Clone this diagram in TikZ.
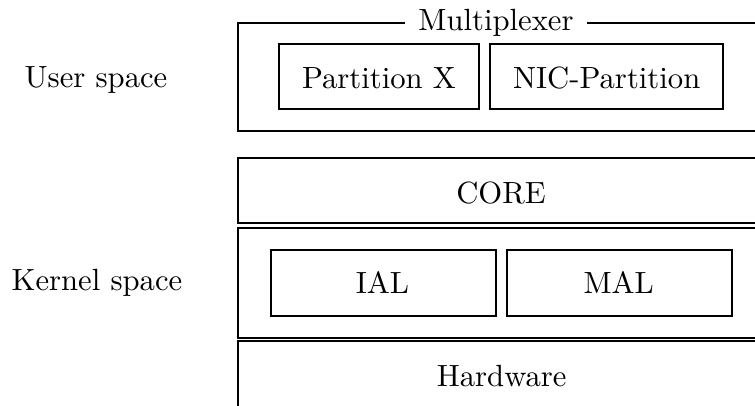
\documentclass[tikz,border=0pt]{standalone}
\usetikzlibrary{fit}
\begin{document}
\begin{tikzpicture}[x=0.326pt, y=-0.326pt,
  box/.style={draw, line width=0.4pt, inner sep=0pt},
  lbl/.style={anchor=base, inner sep=0pt}]
\useasboundingbox (0,0) rectangle (755,406);

% corner points of the layers
\coordinate (mA) at (238,23);  \coordinate (mB) at (764,131);
\coordinate (pA) at (279,44);  \coordinate (pB) at (479,109);
\coordinate (nA) at (490,44);  \coordinate (nB) at (723,109);
\coordinate (cA) at (238,158); \coordinate (cB) at (764,223);
\coordinate (kA) at (238,228); \coordinate (kB) at (764,338);
\coordinate (iA) at (271,250); \coordinate (iB) at (496,316);
\coordinate (aA) at (507,250); \coordinate (aB) at (732,316);
\coordinate (hA) at (238,341); \coordinate (hB) at (764,408);

% user space
\node[box, fit=(mA)(mB)] (mux) {};
\node[fill=white, inner sep=4.5pt] (muxlabel) at (496,23) {Multiplexer};
\node[box, fit=(pA)(pB)] (partx) {};
\node[box, fit=(nA)(nB)] (nic) {};
\node[lbl] (partxtext) at (379,88.3) {Partition X};
\node[lbl] (nictext) at (606.7,88.3) {NIC-Partition};

% kernel space
\node[box, fit=(cA)(cB)] (core) {};
\node[box, fit=(kA)(kB)] (kernel) {};
\node[box, fit=(iA)(iB)] (ial) {};
\node[box, fit=(aA)(aB)] (mal) {};
\node[box, fit=(hA)(hB)] (hw) {};
\node[lbl] (coretext) at (501,203.3) {CORE};
\node[lbl] (ialtext) at (382.5,294) {IAL};
\node[lbl] (maltext) at (618.7,294) {MAL};
\node[lbl] (hwtext) at (501.7,386.7) {Hardware};

% side labels
\node[lbl] (user) at (96,88) {User space};
\node[lbl] (kspace) at (97,290.7) {Kernel space};
\end{tikzpicture}
\end{document}
